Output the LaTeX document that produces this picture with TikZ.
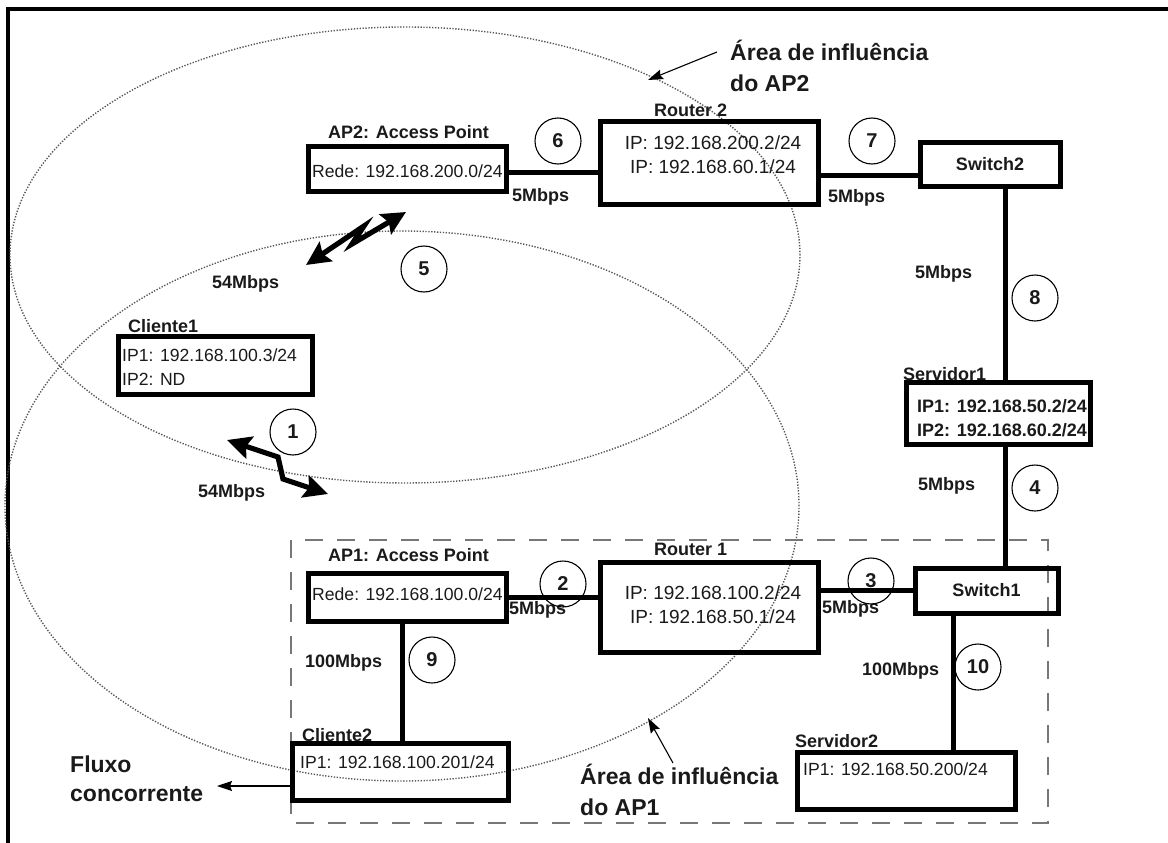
\documentclass[tikz,border=0pt]{standalone}
\usepackage{fontspec}
\setmainfont{Liberation Sans}
\usetikzlibrary{arrows.meta,calc}

\definecolor{ink}{HTML}{1A1A1A}
\definecolor{areagray}{HTML}{555555}
\definecolor{boxgray}{HTML}{777777}

\tikzset{
  box/.style={draw=black, line width=5pt, inner sep=0pt},
  link/.style={draw=black, line width=5pt},
  txt/.style={inner sep=0pt, anchor=base west, text=ink, font=\fontsize{17.6}{24}\selectfont},
  btxt/.style={txt, font=\fontsize{18}{24}\selectfont\bfseries},
  ctxt/.style={inner sep=0pt, text=ink, align=center, font=\fontsize{19}{24}\selectfont},
  num/.style={circle, draw=black, line width=1.1pt, minimum size=46pt, inner sep=0pt,
              text=ink, font=\fontsize{20}{20}\selectfont\bfseries},
  note/.style={inner sep=0pt, anchor=base west, text=ink, align=left,
               font=\fontsize{23}{31}\selectfont\bfseries},
  area/.style={draw=areagray, line width=1.4pt, dash pattern=on 1.3pt off 1.6pt},
  wtip/.tip={Stealth[length=24pt,width=23pt,inset=4pt]},
  zig/.style={draw=black, line width=5.2pt, line join=miter, wtip-wtip},
  pointer/.style={draw=black, line width=1.1pt, -{Stealth[length=15pt,width=10pt,inset=2pt]}}
}

\begin{document}
\begin{tikzpicture}[x=1pt, y=-1pt]
\useasboundingbox (0,0) rectangle (1168,843);

% frame
\draw[line width=4pt] (8,843) -- (8,9) -- (1168,9);

% coverage areas of the two access points
\draw[area] (405,255) ellipse [x radius=395pt, y radius=228pt];
\draw[area] (402,506) ellipse [x radius=397pt, y radius=275pt];

% wired segment of AP1
\draw[draw=boxgray, line width=1.8pt, dash pattern=on 18pt off 14pt]
  (291,540) rectangle (1048,823);

% ---------- boxes ----------
\node[box, minimum width=198pt, minimum height=45pt] (ap2) at (407.5,169) {};
\node[box, minimum width=218pt, minimum height=83pt] (r2) at (709,162.5) {};
\node[box, minimum width=140pt, minimum height=44pt] (sw2) at (990,164) {};
\node[box, minimum width=184pt, minimum height=62pt] (srv1) at (998,413) {};
\node[box, minimum width=194pt, minimum height=58pt] (cl1) at (215,365) {};
\node[box, minimum width=198pt, minimum height=48pt] (ap1) at (407,597) {};
\node[box, minimum width=218pt, minimum height=90pt] (r1) at (709,607) {};
\node[box, minimum width=143pt, minimum height=45pt] (sw1) at (986.5,590.5) {};
\node[box, minimum width=216pt, minimum height=57pt] (cl2) at (400,771.5) {};
\node[box, minimum width=218pt, minimum height=57pt] (srv2) at (906,780.5) {};

% ---------- wired links ----------
\draw[link] ([yshift=-3.5pt]ap2.east) -- ([yshift=-3.5pt]ap2.east -| r2.west);
\draw[link] ([yshift=-11pt]sw2.west -| r2.east) -- ([yshift=-11pt]sw2.west);
\draw[link] ([xshift=15pt]sw2.south) -- ([xshift=15pt]sw2.south |- srv1.north);
\draw[link] ([xshift=7pt]srv1.south) -- ([xshift=7pt]srv1.south |- sw1.north);
\draw[link] (ap1.east) -- (ap1.east -| r1.west);
\draw[link] (sw1.west -| r1.east) -- (sw1.west);
\draw[link] ([xshift=-5pt]ap1.south) -- ([xshift=-5pt]ap1.south |- cl2.north);
\draw[link] ([xshift=-33pt]sw1.south) -- ([xshift=-33pt]sw1.south |- srv2.north);

% ---------- box titles and contents ----------
\node[btxt] (ap2t) at (328,138) {AP2: Access Point};
\node[txt]  (ap2n) at (312,177) {Rede: 192.168.200.0/24};
\node[btxt] (r2t)  at (654,117) {Router 2};
\node[ctxt] (r2n)  at (713,155) {IP: 192.168.200.2/24\\IP: 192.168.60.1/24};
\node[ctxt, font=\fontsize{18}{20}\selectfont\bfseries] (sw2n) at (sw2) {Switch2};
\node[btxt] (srv1t) at (903,380) {Servidor1};
\node[btxt] (srv1a) at (917,412) {IP1: 192.168.50.2/24};
\node[btxt] (srv1b) at (917,436) {IP2: 192.168.60.2/24};
\node[btxt] (cl1t) at (128,332) {Cliente1};
\node[txt]  (cl1a) at (122,361) {IP1: 192.168.100.3/24};
\node[txt]  (cl1b) at (122,385) {IP2: ND};
\node[btxt] (ap1t) at (328,561) {AP1: Access Point};
\node[txt]  (ap1n) at (312,600) {Rede: 192.168.100.0/24};
\node[btxt] (r1t)  at (654,555) {Router 1};
\node[ctxt] (r1n)  at (713,605) {IP: 192.168.100.2/24\\IP: 192.168.50.1/24};
\node[ctxt, font=\fontsize{18}{20}\selectfont\bfseries] (sw1n) at (sw1) {Switch1};
\node[btxt] (cl2t) at (302,741) {Cliente2};
\node[txt]  (cl2n) at (300,768) {IP1: 192.168.100.201/24};
\node[btxt] (srv2t) at (795,747) {Servidor2};
\node[txt]  (srv2n) at (803,775) {IP1: 192.168.50.200/24};

% ---------- link rates ----------
\node[btxt] (s6)  at (512,201) {5Mbps};
\node[btxt] (s7)  at (828,202) {5Mbps};
\node[btxt] (s5)  at (212,288) {54Mbps};
\node[btxt] (s8)  at (915,278) {5Mbps};
\node[btxt] (s1)  at (198,497) {54Mbps};
\node[btxt] (s4)  at (918,490) {5Mbps};
\node[btxt] (s2)  at (509,614) {5Mbps};
\node[btxt] (s3)  at (822,613) {5Mbps};
\node[btxt] (s9)  at (305,667) {100Mbps};
\node[btxt] (s10) at (862,675) {100Mbps};

% ---------- numbered links ----------
\node[num] (n6)  at (558,141) {6};
\node[num] (n7)  at (872,141) {7};
\node[num] (n5)  at (424,269) {5};
\node[num] (n8)  at (1035,298) {8};
\node[num] (n1)  at (293,432) {1};
\node[num] (n4)  at (1035,488) {4};
\node[num] (n2)  at (563,584) {2};
\node[num] (n3)  at (871,581) {3};
\node[num] (n9)  at (432,660) {9};
\node[num] (n10) at (978,667) {10};

% ---------- wireless links (lightning arrows) ----------
\coordinate (w5a) at (306,265);
\coordinate (w5b) at (364,226);
\coordinate (w5c) at (352,244);
\coordinate (w5d) at (406,212);
\draw[zig] (w5a) -- (w5b) -- (w5c) -- (w5d);

\coordinate (w1a) at (227,440);
\coordinate (w1b) at (278,457);
\coordinate (w1c) at (283,479);
\coordinate (w1d) at (328,494);
\draw[zig] (w1a) -- (w1b) -- (w1c) -- (w1d);

% ---------- annotations ----------
\node[note] (a2) at (730,92) {Área de influência\\do AP2};
\coordinate (a2tail) at (717,52);
\coordinate (a2tip) at (648,80);
\draw[pointer] (a2tail) -- (a2tip);

\node[note] (a1) at (580,815) {Área de influência\\do AP1};
\coordinate (a1tail) at (673,763);
\coordinate (a1tip) at (648,718);
\draw[pointer] (a1tail) -- (a1tip);

\node[note, font=\fontsize{23}{29}\selectfont\bfseries] (fx) at (70,801) {Fluxo\\concorrente};
\coordinate (fxtip) at (217,786);
\draw[pointer] ([yshift=-14.5pt]cl2.west) -- (fxtip);

\end{tikzpicture}
\end{document}
